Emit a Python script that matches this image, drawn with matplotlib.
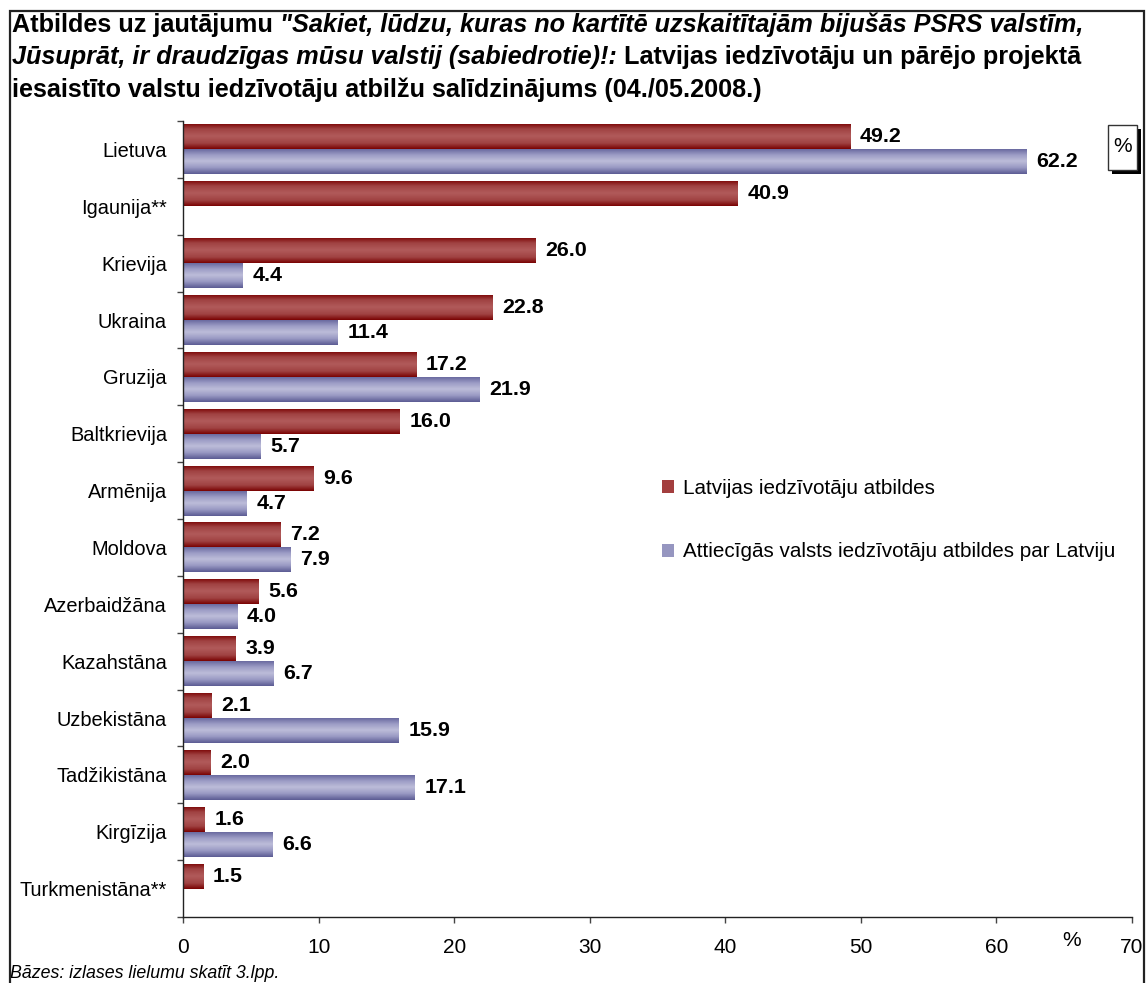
import numpy as np
import matplotlib
matplotlib.use("Agg")
import matplotlib.pyplot as plt
from matplotlib.colors import LinearSegmentedColormap
from matplotlib.patches import Rectangle, Patch

plt.rcParams['font.family'] = ['Liberation Sans', 'DejaVu Sans']

categories = ["Lietuva", "Igaunija**", "Krievija", "Ukraina", "Gruzija", "Baltkrievija",
              "Armēnija", "Moldova", "Azerbaidžāna", "Kazahstāna", "Uzbekistāna",
              "Tadžikistāna", "Kirgīzija", "Turkmenistāna**"]
latvia = [49.2, 40.9, 26.0, 22.8, 17.2, 16.0, 9.6, 7.2, 5.6, 3.9, 2.1, 2.0, 1.6, 1.5]
other = [62.2, np.nan, 4.4, 11.4, 21.9, 5.7, 4.7, 7.9, 4.0, 6.7, 15.9, 17.1, 6.6, np.nan]
series_names = ["Latvijas iedzīvotāju atbildes",
                "Attiecīgās valsts iedzīvotāju atbildes par Latviju"]
xticks = [0, 10, 20, 30, 40, 50, 60, 70]

W, H = 1146, 983
fig = plt.figure(figsize=(W / 100, H / 100), dpi=100)
ax = fig.add_axes([183 / W, 1 - 917 / H, (1132 - 183) / W, (917 - 121) / H])

red_cmap = LinearSegmentedColormap.from_list(
    "r", [(0, "#7a0303"), (0.22, "#a04242"), (0.5, "#b15b5b"), (0.78, "#a04242"), (1, "#7a0303")])
blue_cmap = LinearSegmentedColormap.from_list(
    "b", [(0, "#62629a"), (0.25, "#9a9ac4"), (0.5, "#bdbdd9"), (0.75, "#9a9ac4"), (1, "#5c5c94")])

y = np.arange(len(categories))
h = 0.44
bars_r = ax.barh(y - h / 2, latvia, height=h, facecolor="none", edgecolor="none")
bars_b = ax.barh(y + h / 2, other, height=h, facecolor="none", edgecolor="none")

grad = np.linspace(0, 1, 64).reshape(-1, 1)
for bars, cmap in ((bars_r, red_cmap), (bars_b, blue_cmap)):
    for p in bars:
        w = p.get_width()
        if np.isnan(w):
            continue
        x0, y0, hh = p.get_x(), p.get_y(), p.get_height()
        im = ax.imshow(grad, extent=[x0, x0 + w, y0 + hh, y0], cmap=cmap,
                       aspect="auto", interpolation="bilinear", zorder=2)
        im.set_clip_path(p)

fs_val = 15.4
lbl_r = [f"{v:.1f}" for v in latvia]
lbl_b = ["" if np.isnan(v) else f"{v:.1f}" for v in other]
ax.bar_label(bars_r, labels=lbl_r, padding=7, fontsize=fs_val, fontweight="bold")
ax.bar_label(bars_b, labels=lbl_b, padding=7, fontsize=fs_val, fontweight="bold")

ax.set_xlim(0, 70)
ax.set_ylim(len(categories) - 0.5, -0.5)
ax.set_xticks(xticks)
ax.set_xticklabels([str(t) for t in xticks], fontsize=15)
ax.set_yticks(y)
ax.set_yticklabels(categories, fontsize=14.4)
ax.set_yticks(np.arange(-0.5, len(categories), 1.0), minor=True)
ax.tick_params(axis="y", which="major", length=0, pad=11.5)
ax.tick_params(axis="y", which="minor", length=4, width=1, direction="out", color="#444444")
ax.tick_params(axis="x", which="major", length=4, width=1, direction="out", pad=11, color="#444444")
for s in ("top", "right"):
    ax.spines[s].set_visible(False)
for s in ("left", "bottom"):
    ax.spines[s].set_color("#222222")
    ax.spines[s].set_linewidth(1)

fig.text(1072 / W, 1 - 940 / H, "%", fontsize=15, ha="center", va="center")

# legend
handles = [Patch(facecolor="#a33e3e", edgecolor="none"), Patch(facecolor="#9696c0", edgecolor="none")]
fig.legend(handles, series_names, loc="upper left", bbox_to_anchor=(662 / W, 1 - 479 / H),
           frameon=False, fontsize=14.9, handlelength=0.6, handleheight=0.6,
           handletextpad=0.4, labelspacing=2.15, borderpad=0, borderaxespad=0)

# title
r = fig.canvas.get_renderer()
fs_t = 18.2


def line(parts, ybase):
    x = 12 / W
    for txt, style in parts:
        t = fig.text(x, 1 - ybase / H, txt, fontsize=fs_t, fontweight="bold", style=style,
                     ha="left", va="baseline")
        bb = t.get_window_extent(renderer=r)
        x = bb.x1 / W


line([("Atbildes uz jautājumu ", "normal"),
      ('"Sakiet, lūdzu, kuras no kartītē uzskaitītajām bijušās PSRS valstīm,', "italic")], 32)
line([("Jūsuprāt, ir draudzīgas mūsu valstij (sabiedrotie)!:", "italic"),
      (" Latvijas iedzīvotāju un pārējo projektā", "normal")], 64)
line([("iesaistīto valstu iedzīvotāju atbilžu salīdzinājums (04./05.2008.)", "normal")], 97)

fig.text(10 / W, 1 - 974 / H, "Bāzes: izlases lielumu skatīt 3.lpp.", fontsize=12.8,
         style="italic", ha="left", va="center")

# % box with shadow
fig.patches.append(Rectangle((1112 / W, 1 - 174 / H), 29 / W, 45 / H, transform=fig.transFigure,
                             facecolor="black", edgecolor="none", zorder=5))
fig.patches.append(Rectangle((1108 / W, 1 - 170 / H), 29 / W, 45 / H, transform=fig.transFigure,
                             facecolor="white", edgecolor="#333333", linewidth=1, zorder=6))
fig.text(1122.5 / W, 1 - 147 / H, "%", fontsize=15, ha="center", va="center", zorder=7)

# figure border
fig.patches.append(Rectangle((10 / W, -0.05), (1144 - 10) / W, 1.05 - 11 / H,
                             transform=fig.transFigure, facecolor="none",
                             edgecolor="#222222", linewidth=1.6, zorder=10))

fig.savefig("out.png", dpi=100)
